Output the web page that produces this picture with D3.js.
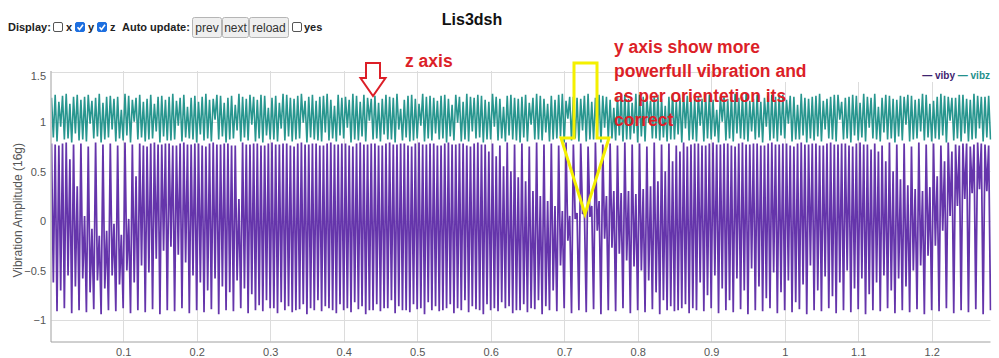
<!DOCTYPE html>
<html><head><meta charset="utf-8">
<script src="https://cdn.jsdelivr.net/npm/d3@7"></script>
<style>
body{margin:0;background:#fff;}
svg{display:block;font-family:"Liberation Sans",Arial,sans-serif;}
</style>
</head><body>
<svg id="chart" width="999" height="358"></svg>
<script>
// ---------------- data ----------------
const sampleRate = 400;            // samples per second
const seriesNames = ["viby", "vibz"];
const xTickValues = [0.1,0.2,0.3,0.4,0.5,0.6,0.7,0.8,0.9,1,1.1,1.2];
const yTickValues = [-1,-0.5,0,0.5,1,1.5];
const yLabel = "Vibration Amplitude (16g)";
const title = "Lis3dsh";

const viby = [
0.78,-0.62,0.77,-0.91, 0.76,-0.70,0.78,-0.88, 0.79,-0.55,0.62,-0.93, 0.77,-0.66,0.35,-0.90,
0.78,-0.58,0.05,-0.92, 0.75,-0.72,-0.08,-0.89, 0.79,-0.60,-0.15,-0.94, 0.77,-0.68,-0.10,-0.90,
0.78,-0.55,-0.03,-0.91, 0.76,-0.64,-0.14,-0.88, 0.79,-0.50,0.02,-0.93, 0.77,-0.62,0.45,-0.90,
0.78,-0.45,0.76,-0.92, 0.75,-0.52,0.78,-0.89, 0.79,-0.38,0.77,-0.94, 0.77,-0.30,0.78,-0.90,
0.78,-0.26,0.76,-0.91, 0.76,-0.34,0.78,-0.88, 0.79,-0.42,0.77,-0.93, 0.77,-0.55,0.78,-0.90,
0.78,-0.62,0.76,-0.92, 0.75,-0.70,0.78,-0.89, 0.79,-0.58,0.77,-0.94, 0.77,-0.66,0.78,-0.90,
0.78,-0.72,0.76,-0.91, 0.76,-0.60,0.22,-0.88, 0.79,-0.68,0.77,-0.93, 0.77,-0.74,0.78,-0.90,
0.78,-0.85,0.76,-0.91, 0.76,-0.80,0.78,-0.88, 0.79,-0.88,0.77,-0.93, 0.77,-0.82,0.78,-0.90,
0.78,-0.86,0.76,-0.92, 0.75,-0.90,0.78,-0.89, 0.79,-0.84,0.77,-0.94, 0.77,-0.88,0.78,-0.90,
0.78,-0.80,0.76,-0.91, 0.76,-0.86,0.78,-0.88, 0.79,-0.90,0.77,-0.93, 0.77,-0.84,0.78,-0.90,
0.78,-0.88,0.76,-0.92, 0.75,-0.82,0.78,-0.89, 0.79,-0.86,0.77,-0.94, 0.77,-0.90,0.78,-0.90,
0.78,-0.84,0.76,-0.91, 0.76,-0.88,0.78,-0.88, 0.79,-0.80,0.77,-0.93, 0.77,-0.86,0.78,-0.90,
0.78,-0.90,0.76,-0.92, 0.75,-0.84,0.78,-0.89, 0.79,-0.88,0.77,-0.94, 0.77,-0.82,0.78,-0.90,
0.78,-0.86,0.76,-0.91, 0.76,-0.90,0.78,-0.88, 0.79,-0.84,0.77,-0.93, 0.77,-0.88,0.78,-0.90,
0.78,-0.80,0.76,-0.92, 0.75,-0.86,0.78,-0.89, 0.79,-0.90,0.77,-0.94, 0.77,-0.84,0.70,-0.90,
0.78,-0.88,0.65,-0.91, 0.76,-0.82,0.55,-0.88, 0.79,-0.86,0.50,-0.93, 0.77,-0.90,0.44,-0.90,
0.78,-0.84,0.40,-0.92, 0.75,-0.88,0.30,-0.89, 0.79,-0.80,0.25,-0.94, 0.77,-0.86,0.20,-0.90,
0.78,-0.70,0.15,-0.91, 0.76,-0.45,0.10,-0.88, 0.79,-0.20,0.05,-0.93, 0.77,0.02,0.08,-0.90,
0.78,0.07,0.10,-0.92, 0.75,0.04,0.15,-0.89, 0.79,-0.10,0.20,-0.94, 0.77,-0.18,0.25,-0.90,
0.78,-0.27,0.30,-0.91, 0.76,-0.33,0.28,-0.88, 0.79,-0.40,0.30,-0.93, 0.77,-0.46,0.27,-0.90,
0.78,-0.50,0.32,-0.92, 0.75,-0.60,0.35,-0.89, 0.79,-0.72,0.40,-0.94, 0.77,-0.80,0.50,-0.90,
0.78,-0.86,0.60,-0.91, 0.76,-0.90,0.70,-0.88, 0.79,-0.84,0.75,-0.93, 0.77,-0.88,0.78,-0.90,
0.78,-0.62,0.76,-0.91, 0.76,-0.75,0.78,-0.88, 0.79,-0.55,0.77,-0.93, 0.77,-0.68,0.78,-0.90,
0.78,-0.80,0.76,-0.92, 0.75,-0.58,0.78,-0.89, 0.79,-0.70,0.77,-0.94, 0.77,-0.48,0.78,-0.90,
0.78,-0.66,0.76,-0.91, 0.76,-0.78,0.78,-0.88, 0.79,-0.52,0.77,-0.93, 0.77,-0.72,0.78,-0.90,
0.78,-0.60,0.76,-0.92, 0.75,-0.82,0.78,-0.89, 0.79,-0.64,0.77,-0.94, 0.77,-0.45,0.78,-0.90,
0.78,-0.70,0.76,-0.91, 0.76,-0.56,0.78,-0.88, 0.79,-0.76,0.77,-0.93, 0.77,-0.62,0.78,-0.90,
0.78,-0.50,0.76,-0.92, 0.75,-0.68,0.78,-0.89, 0.79,-0.58,0.77,-0.94, 0.77,-0.74,0.72,-0.90,
0.78,-0.62,0.70,-0.91, 0.76,-0.55,0.60,-0.88, 0.79,-0.70,0.50,-0.93, 0.77,-0.58,0.42,-0.90,
0.78,-0.66,0.36,-0.92, 0.75,-0.50,0.32,-0.89, 0.79,-0.45,0.30,-0.94, 0.77,-0.35,0.34,-0.90,
0.78,-0.25,0.45,-0.91, 0.76,-0.10,0.60,-0.88, 0.79,0.05,0.70,-0.93, 0.77,0.15,0.76,-0.90,
0.78,0.22,0.78,-0.92, 0.75,0.28,0.77,-0.89, 0.79,0.32,0.78,-0.94, 0.77,0.30,0.76,-0.90
];

const vibz = [
1.24,0.84,1.27,0.80, 1.20,0.95,1.26,0.82, 1.28,0.83,1.18,0.79, 1.25,0.88,1.27,0.81,
1.22,0.82,1.25,0.80, 1.27,0.98,1.21,0.83, 1.24,0.85,1.28,0.79, 1.19,0.82,1.25,0.84,
1.26,0.92,1.23,0.80, 1.25,0.83,1.12,0.81, 1.28,0.86,1.26,0.79, 1.22,1.00,1.24,0.82,
1.27,0.84,1.20,0.80, 1.23,0.82,1.27,0.83, 1.18,0.90,1.25,0.79, 1.26,0.85,1.22,0.81,
1.25,0.81,1.28,0.82, 1.21,0.96,1.24,0.80, 1.27,0.84,1.15,0.83, 1.24,0.82,1.26,0.79,
1.20,0.87,1.25,0.81, 1.28,0.83,1.22,0.80, 1.23,1.02,1.27,0.82, 1.26,0.85,1.19,0.79,
1.24,0.82,1.26,0.83, 1.17,0.91,1.28,0.80, 1.25,0.84,1.23,0.81, 1.27,0.97,1.25,0.80,
1.22,0.83,1.27,0.79, 1.26,0.86,1.14,0.82, 1.24,0.82,1.26,0.80, 1.19,0.93,1.28,0.81,
1.27,0.85,1.24,0.80, 1.23,0.82,1.26,0.83, 1.28,0.99,1.21,0.79, 1.25,0.84,1.27,0.82,
1.21,0.81,1.25,0.80, 1.26,0.89,1.28,0.81, 1.22,0.83,1.16,0.80, 1.27,0.86,1.24,0.83,
1.25,0.94,1.22,0.79, 1.28,0.82,1.26,0.81, 1.20,0.85,1.27,0.80, 1.24,1.01,1.23,0.82,
1.26,0.83,1.19,0.80, 1.23,0.87,1.27,0.82, 1.25,0.82,1.24,0.79, 1.28,0.92,1.13,0.81,
1.22,0.84,1.26,0.80, 1.27,0.81,1.23,0.83, 1.18,0.96,1.28,0.80, 1.25,0.83,1.26,0.81,
1.24,0.88,1.21,0.82, 1.26,0.83,1.27,0.79, 1.23,0.85,1.17,0.81, 1.27,0.99,1.25,0.80,
1.20,0.82,1.28,0.80, 1.25,0.90,1.24,0.83, 1.27,0.84,1.26,0.79, 1.22,0.82,1.20,0.82,
1.28,0.95,1.25,0.81, 1.23,0.83,1.15,0.80, 1.26,0.86,1.27,0.82, 1.24,0.81,1.23,0.79,
1.25,0.84,1.27,0.80, 1.19,0.97,1.24,0.82, 1.28,0.82,1.26,0.81, 1.23,0.89,1.18,0.80,
1.26,0.82,1.22,0.83, 1.27,0.85,1.28,0.79, 1.21,1.03,1.25,0.81, 1.25,0.83,1.24,0.80,
1.23,0.91,1.26,0.80, 1.28,0.82,1.20,0.82, 1.24,0.84,1.27,0.79, 1.26,0.94,1.25,0.83,
1.22,0.83,1.14,0.81, 1.25,0.86,1.26,0.80, 1.27,0.82,1.23,0.82, 1.19,0.88,1.28,0.79,
1.27,0.85,1.25,0.80, 1.24,0.99,1.21,0.83, 1.26,0.83,1.27,0.81, 1.23,0.84,1.16,0.80,
1.25,0.82,1.28,0.82, 1.20,0.87,1.24,0.79, 1.28,0.93,1.26,0.81, 1.24,0.82,1.22,0.80,
1.26,0.96,1.23,0.80, 1.27,0.83,1.27,0.82, 1.22,0.85,1.12,0.79, 1.25,1.00,1.26,0.81,
1.23,0.83,1.25,0.80, 1.28,0.88,1.24,0.83, 1.25,0.82,1.28,0.80, 1.21,0.90,1.23,0.82,
1.27,0.84,1.20,0.79, 1.24,0.95,1.26,0.81, 1.27,0.83,1.25,0.80, 1.26,0.86,1.27,0.83,
1.22,0.98,1.26,0.80, 1.25,0.82,1.17,0.82, 1.28,0.86,1.24,0.79, 1.23,0.83,1.25,0.81,
1.26,0.85,1.28,0.80, 1.21,0.92,1.23,0.83, 1.25,0.82,1.27,0.80, 1.27,1.02,1.20,0.82,
1.24,0.83,1.25,0.79, 1.27,0.86,1.26,0.81, 1.19,0.84,1.28,0.80, 1.25,0.94,1.24,0.83,
1.28,0.82,1.15,0.80, 1.24,0.89,1.27,0.82, 1.26,0.83,1.23,0.79, 1.22,0.85,1.26,0.81,
1.25,0.97,1.27,0.80, 1.26,0.82,1.22,0.83, 1.23,0.90,1.28,0.81, 1.27,0.84,1.18,0.80,
1.21,0.83,1.25,0.82, 1.28,0.86,1.26,0.79, 1.25,1.01,1.24,0.81, 1.24,0.83,1.27,0.80,
1.27,0.88,1.23,0.80, 1.22,0.82,1.28,0.83, 1.26,0.93,1.25,0.80, 1.25,0.84,1.26,0.82
];

const noteZ = ["z axis"];
const noteY = ["y axis show more","powerfull vibration and","as per orientetion its","correct"];

// ---------------- drawing ----------------
const svg = d3.select("#chart");
const times = viby.map((v, i) => (i + 1) / sampleRate);
const plot = {left: 51.5, right: 990.5, top: 71, bottom: 341.5};

const x = d3.scaleLinear().domain(d3.extent(times)).range([plot.left, plot.right]);
const y = d3.scaleLinear().domain([-1.215, 1.51]).range([plot.bottom, plot.top]);

// grid
const grid = svg.append("g");
grid.selectAll("line.vx").data(xTickValues).join("line")
  .attr("x1", d => Math.round(x(d)) + 0.5).attr("x2", d => Math.round(x(d)) + 0.5)
  .attr("y1", plot.top).attr("y2", plot.bottom)
  .attr("stroke", "#dcdcdc").attr("stroke-width", 1);
grid.selectAll("line.hy").data(yTickValues).join("line")
  .attr("x1", plot.left).attr("x2", plot.right)
  .attr("y1", d => Math.round(y(d)) + 0.5).attr("y2", d => Math.round(y(d)) + 0.5)
  .attr("stroke", "#dcdcdc").attr("stroke-width", 1);

// clip
svg.append("clipPath").attr("id", "clip").append("rect")
  .attr("x", plot.left).attr("y", plot.top)
  .attr("width", plot.right - plot.left + 1).attr("height", plot.bottom - plot.top);

const colors = {viby: "#6535ab", vibz: "#28968f"};
const widths = {viby: 1.75, vibz: 1.6};
const seriesData = {viby: viby, vibz: vibz};
const line = d3.line().x((d, i) => x(times[i])).y(d => y(d));
const lines = svg.append("g").attr("clip-path", "url(#clip)");
seriesNames.forEach(name => {
  lines.append("path").datum(seriesData[name])
    .attr("d", line).attr("fill", "none")
    .attr("stroke", colors[name]).attr("stroke-width", widths[name])
    .attr("stroke-linejoin", "miter").attr("stroke-miterlimit", 2);
});

// axes (lines + labels)
const xAxis = d3.axisBottom(x).tickValues(xTickValues).tickSize(0).tickFormat(d3.format("~g"));
const gx = svg.append("g").attr("transform", `translate(0,${plot.bottom + 0.5})`).call(xAxis);
gx.select(".domain").attr("stroke", "#a0a0a0").attr("d", `M${plot.left - 0.5},0H${plot.right}`);
gx.selectAll("text").attr("fill", "#555").attr("font-size", 11)
  .attr("font-family", "Liberation Sans, Arial, sans-serif").attr("dy", null).attr("y", 14);

const yAxis = d3.axisLeft(y).tickValues(yTickValues).tickSize(0).tickFormat(d3.format("~g"));
const gy = svg.append("g").attr("transform", `translate(${plot.left - 0.5},0)`).call(yAxis);
gy.select(".domain").attr("stroke", "#a0a0a0").attr("d", `M0,${plot.top}V${plot.bottom + 0.5}`);
gy.selectAll("text").attr("fill", "#555").attr("font-size", 11)
  .attr("font-family", "Liberation Sans, Arial, sans-serif")
  .attr("x", -5).attr("dy", d => d === 1.5 ? "0.95em" : "0.62em")
  .attr("y", -3);

svg.append("text").text(yLabel)
  .attr("transform", `translate(22,${(plot.top + plot.bottom) / 2 + 4}) rotate(-90)`)
  .attr("text-anchor", "middle").attr("font-size", 12).attr("fill", "#555");

// legend box (white) + legend text
svg.append("rect").attr("x", 748).attr("y", 60).attr("width", 251).attr("height", 22).attr("fill", "#fff");
const leg = svg.append("text").attr("x", 990).attr("y", 78.5).attr("text-anchor", "end")
  .attr("font-size", 10).attr("font-weight", "bold");
seriesNames.forEach((name, i) => {
  leg.append("tspan").attr("fill", name === "viby" ? "#3e2470" : "#23908c")
     .text((i ? " " : "") + "\u2014 " + name);
});

// title
svg.append("text").text(title).attr("x", 472).attr("y", 25).attr("text-anchor", "middle")
  .attr("font-size", 16).attr("font-weight", "bold").attr("fill", "#111");

// ---------------- controls row ----------------
const ctl = svg.append("g").attr("font-size", 11).attr("fill", "#222");
function label(t, xx, bold) {
  ctl.append("text").text(t).attr("x", xx).attr("y", 30.5).attr("font-weight", bold ? "bold" : "normal");
}
function checkbox(xx, checked) {
  ctl.append("rect").attr("x", xx + 0.5).attr("y", 22.5).attr("width", 9).attr("height", 9).attr("rx", 1.5)
    .attr("fill", checked ? "#1d6fe0" : "#fff").attr("stroke", checked ? "#1d6fe0" : "#555");
  if (checked) ctl.append("path").attr("d", `M${xx + 2.5},27.2 L${xx + 4.5},29.4 L${xx + 8},24.8`)
    .attr("fill", "none").attr("stroke", "#fff").attr("stroke-width", 1.6);
}
function button(t, x0, x1) {
  ctl.append("rect").attr("x", x0 + 0.5).attr("y", 17.5).attr("width", x1 - x0).attr("height", 20).attr("rx", 2)
    .attr("fill", "#efefef").attr("stroke", "#b5b5b5");
  ctl.append("text").text(t).attr("x", (x0 + x1) / 2 + 0.5).attr("y", 31.5).attr("text-anchor", "middle")
    .attr("font-size", 12).attr("fill", "#333");
}
label("Display:", 8, true);
checkbox(53, false); label("x", 66, true);
checkbox(75, true);  label("y", 88, true);
checkbox(97, true);  label("z", 110, true);
label("Auto update:", 122, true);
button("prev", 192, 221);
button("next", 222, 248);
button("reload", 249, 288);
checkbox(292, false); label("yes", 304, true);

// ---------------- annotations ----------------
const red = "#dc1f28";
svg.append("path").attr("d", "M366,63 L380,63 L380,78 L385.5,78 L373,96 L360.5,78 L366,78 Z")
  .attr("fill", "#fff").attr("stroke", red).attr("stroke-width", 2);
svg.append("text").text(noteZ[0]).attr("x", 405).attr("y", 67)
  .attr("font-size", 17.5).attr("font-weight", "bold").attr("fill", red);
const yt = svg.append("text").attr("font-size", 17.5).attr("font-weight", "bold").attr("fill", red);
noteY.forEach((t, i) => {
  yt.append("tspan").attr("x", 614).attr("y", 53 + i * 24.3).text(t);
});
svg.append("path").attr("d", "M574,63 L597,63 L597,138 L609,138 L585,214 L561,138 L574,138 Z")
  .attr("fill", "none").attr("stroke", "#f4f000").attr("stroke-width", 3).attr("stroke-linejoin", "miter");
</script>
</body></html>
